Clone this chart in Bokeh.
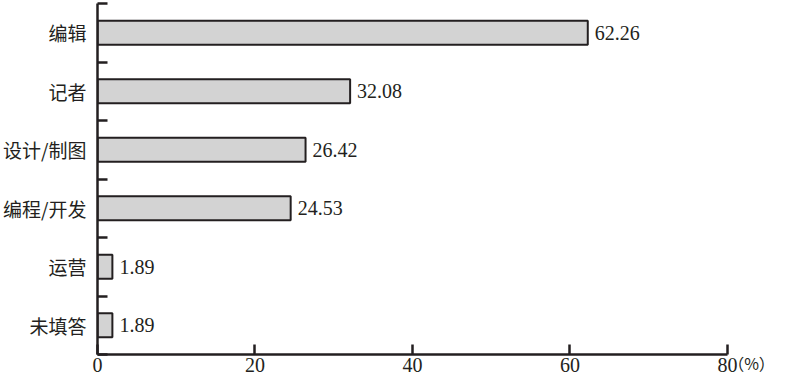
from bokeh.plotting import figure
from bokeh.models import FixedTicker, ColumnDataSource, LabelSet
from bokeh.core.properties import value
from bokeh.embed import file_html
from bokeh.resources import INLINE

categories = ["编辑", "记者", "设计/制图", "编程/开发", "运营", "未填答"]
values = [62.26, 32.08, 26.42, 24.53, 1.89, 1.89]
x_ticks = [0, 20, 40, 60, 80]
unit_label = "（%）"

n = len(categories)
ypos = [n - i - 0.5 for i in range(n)]
labels_txt = [f"{v:.2f}" for v in values]

src = ColumnDataSource(dict(y=ypos, v=values, t=labels_txt))

INK = "#231f20"
p = figure(frame_width=654, frame_height=351, x_range=(0, 83.05), y_range=(0, n),
           output_backend="svg", toolbar_location=None,
           min_border_left=0, min_border_right=25, min_border_top=3, min_border_bottom=0)
p.outline_line_color = None
p.xgrid.visible = False
p.ygrid.visible = False

p.hbar(y="y", left=0, right="v", height=0.41, source=src,
       fill_color="#d3d3d3", line_color=INK, line_width=2)

p.add_layout(LabelSet(x="v", y="y", text="t", source=src, x_offset=7,
                      text_baseline="middle", text_font=value("Liberation Serif"),
                      text_font_size="20px", text_color=INK))

# y axis
yax = p.yaxis[0]
yax.ticker = FixedTicker(ticks=ypos, minor_ticks=list(range(n + 1)))
yax.major_label_overrides = {y: c for y, c in zip(ypos, categories)}
yax.major_tick_in = 0
yax.major_tick_out = 0
yax.minor_tick_in = 10
yax.minor_tick_out = 0
yax.minor_tick_line_color = INK
yax.minor_tick_line_width = 2.5
yax.axis_line_color = INK
yax.axis_line_width = 2.5
yax.major_label_standoff = 11
yax.major_label_text_font = "Noto Sans CJK SC"
yax.major_label_text_font_size = "19px"
yax.major_label_text_color = INK

# x axis
xax = p.xaxis[0]
xax.bounds = (0, 80)
xax.ticker = FixedTicker(ticks=x_ticks)
xax.major_tick_in = 10
xax.major_tick_out = 0
xax.minor_tick_in = 0
xax.minor_tick_out = 0
xax.major_tick_line_color = INK
xax.major_tick_line_width = 2.5
xax.axis_line_color = INK
xax.axis_line_width = 2.5
xax.major_label_standoff = 3
xax.major_label_text_font = "Liberation Serif"
xax.major_label_text_font_size = "20px"
xax.major_label_text_color = INK
xax.axis_label = unit_label
xax.axis_label_align = "end"
xax.axis_label_standoff = -24
xax.axis_label_text_font = "Noto Sans CJK SC"
xax.axis_label_text_font_style = "normal"
xax.axis_label_text_font_size = "16px"
xax.axis_label_text_color = INK

open("out.html", "w").write(file_html(p, INLINE))
